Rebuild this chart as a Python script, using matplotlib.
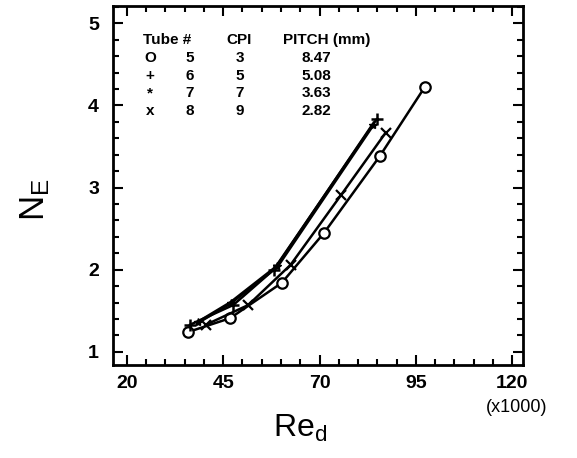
import numpy as np
import matplotlib.pyplot as plt
from matplotlib.ticker import MultipleLocator

plt.rcParams['font.family'] = ['Liberation Sans', 'DejaVu Sans']
plt.rcParams['mathtext.fontset'] = 'custom'
plt.rcParams['mathtext.rm'] = 'Liberation Sans'
plt.rcParams['mathtext.it'] = 'Liberation Sans'

# Data (Re_d in thousands, N_E)
re_t5 = [35.8, 46.8, 60.2, 71.2, 85.6, 97.4]
ne_t5 = [1.24, 1.41, 1.84, 2.45, 3.38, 4.23]

re_t6 = [36.4, 47.6, 58.1, 84.8]
ne_t6 = [1.33, 1.57, 2.00, 3.83]

re_t7 = [38.5, 47.0, 59.0, 83.8]
ne_t7 = [1.36, 1.60, 2.04, 3.76]

re_t8 = [40.5, 51.5, 62.5, 75.6, 87.2]
ne_t8 = [1.33, 1.57, 2.06, 2.91, 3.67]

legend_rows = [("O", "5", "3", "8.47"), ("+", "6", "5", "5.08"),
               ("*", "7", "7", "3.63"), ("x", "8", "9", "2.82")]

W, H = 577, 458
fig = plt.figure(figsize=(W / 100, H / 100), dpi=100)
ax = fig.add_axes([113 / W, 1 - 365 / H, 410 / W, 359 / H])

lw = 1.8
ax.plot(re_t5, ne_t5, color="black", lw=lw, marker="o", ms=7.5, mfc="white", mew=1.6)
ax.plot(re_t6, ne_t6, color="black", lw=lw, marker="+", ms=8, mew=1.8)
ax.plot(re_t7, ne_t7, color="black", lw=2.6, marker="*", ms=6)
ax.plot(re_t8, ne_t8, color="black", lw=lw, marker="x", ms=7, mew=1.6)

ax.set_xlim(16.4, 122.8)
ax.set_ylim(0.84, 5.21)
ax.xaxis.set_major_locator(MultipleLocator(25))
ax.xaxis.set_minor_locator(MultipleLocator(5))
ax.yaxis.set_major_locator(MultipleLocator(1))
ax.yaxis.set_minor_locator(MultipleLocator(0.2))
ax.set_xticks([20, 45, 70, 95, 120])
ax.tick_params(which="both", direction="in", top=True, right=True, width=1.5)
ax.tick_params(which="major", length=7, labelsize=14)
ax.tick_params(axis="y", which="major", pad=10)
ax.tick_params(axis="x", which="major", pad=7)
ax.tick_params(which="minor", length=4)
for lab in ax.get_xticklabels() + ax.get_yticklabels():
    lab.set_fontweight("bold")
for s in ax.spines.values():
    s.set_linewidth(2)

fig.text(35 / W, 1 - 200 / H, r"$\mathrm{N_E}$", fontsize=25, rotation=90,
         ha="center", va="center")
fig.text(300 / W, 1 - 428 / H, r"$\mathrm{Re_d}$", fontsize=23,
         ha="center", va="center")
fig.text(517 / W, 1 - 408 / H, "(x1000)", fontsize=13, ha="center", va="center")

# legend table
def put(x, y, s, **kw):
    fig.text(x / W, 1 - y / H, s, fontsize=11, fontweight="bold", va="center", **kw)

put(143, 40, "Tube #")
put(226, 40, "CPI")
put(283, 40, "PITCH (mm)")
ys = [58, 76, 93, 111]
for (sym, tube, cpi, pitch), y in zip(legend_rows, ys):
    put(150, y, sym, ha="center")
    put(190, y, tube, ha="center")
    put(240, y, cpi, ha="center")
    put(316, y, pitch, ha="center")

fig.savefig("out.png", dpi=100)
